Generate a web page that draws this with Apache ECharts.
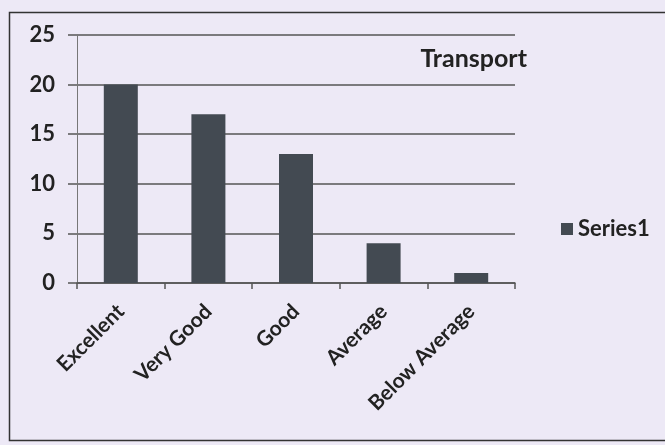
<!DOCTYPE html>
<html><head><meta charset="utf-8">
<script src="https://cdn.jsdelivr.net/npm/echarts@6/dist/echarts.min.js"></script>
<style>html,body{margin:0;padding:0;background:#f3f0f8}#c{width:665px;height:445px}</style>
</head><body><div id="c"></div>
<script>
const categories = ['Excellent', 'Very Good', 'Good', 'Average', 'Below Average'];
const series1 = [20, 17, 13, 4, 1];
const yTicks = [0, 5, 10, 15, 20, 25];
const chart = echarts.init(document.getElementById('c'));
const font = 'Lato, "Open Sans", sans-serif';
chart.setOption({
  backgroundColor: '#ede9f6',
  animation: false,
  textStyle: { fontFamily: font },
  graphic: [{ type: 'rect', shape: { x: 9.5, y: 12.5, width: 670, height: 428 }, style: { fill: 'none', stroke: '#333', lineWidth: 1.5 } }],
  title: { text: 'Transport', right: 133, top: 41, textStyle: { fontFamily: font, fontSize: 25, fontWeight: 'bold', color: '#222' } },
  legend: { data: ['Series1'], left: 556, top: 213, icon: 'rect', itemWidth: 12, itemHeight: 12, itemGap: 6, textStyle: { fontFamily: font, fontSize: 22, fontWeight: 'bold', color: '#222' } },
  grid: { left: 77, right: 150, top: 35, bottom: 162 },
  xAxis: {
    type: 'category', data: categories,
    axisLine: { lineStyle: { color: '#555', width: 1.5 } },
    axisTick: { show: true, length: 6, lineStyle: { color: '#555', width: 1.5 } },
    axisLabel: { rotate: 45, fontSize: 21, fontWeight: 'bold', color: '#222', margin: 25, fontFamily: font }
  },
  yAxis: {
    type: 'value', min: 0, max: 25, interval: 5,
    axisLine: { show: true, lineStyle: { color: '#777', width: 1 } },
    axisTick: { show: true, length: 9, lineStyle: { color: '#555', width: 1.5 } },
    axisLabel: { fontSize: 22, fontWeight: 'bold', color: '#222', margin: 22, fontFamily: font, formatter: v => yTicks.includes(v) ? String(v) : '' },
    splitLine: { lineStyle: { color: '#555', width: 1.5 } }
  },
  series: [{ name: 'Series1', type: 'bar', data: series1, barWidth: 34, itemStyle: { color: '#434a52' } }]
});
</script></body></html>
